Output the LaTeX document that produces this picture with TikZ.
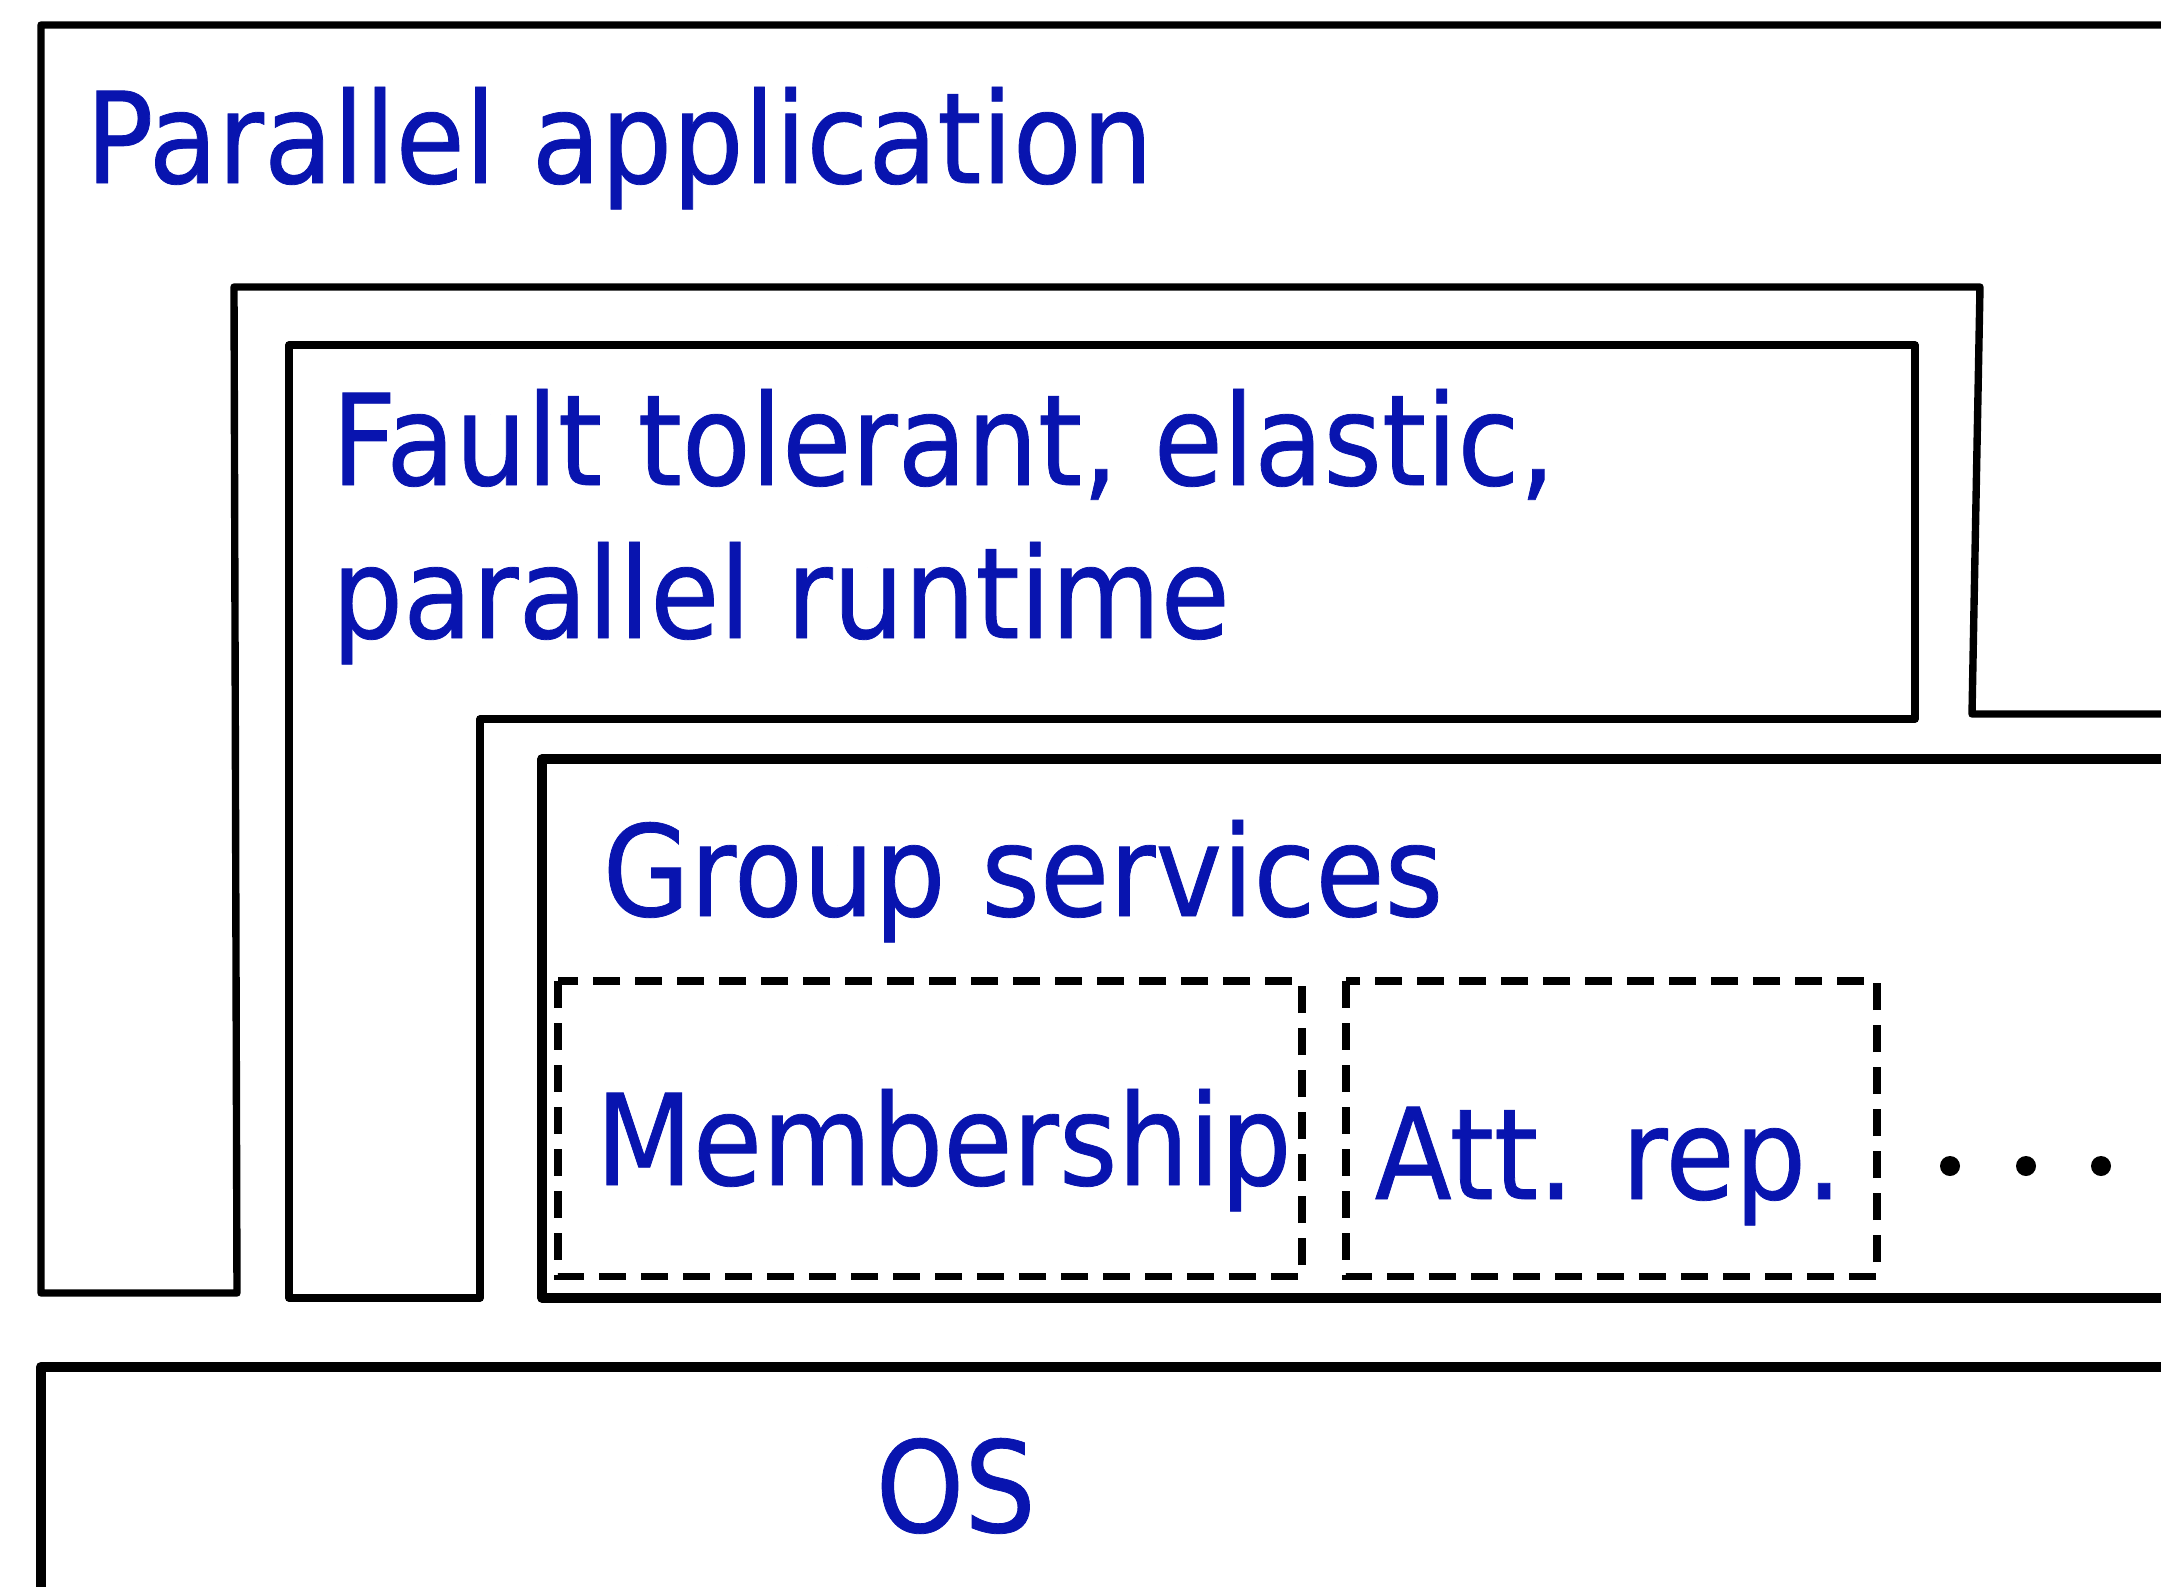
\documentclass[tikz,border=0pt]{standalone}
\usepackage{fontspec}
\setmainfont[FakeStretch=0.89,FakeBold=0.6]{DejaVu Sans}
\definecolor{lblblue}{RGB}{8,20,175}
\tikzset{
    layer/.style={line width=2.1pt, line join=round},
    sublayer/.style={line width=2pt, dash pattern=on 0.27cm off 0.15cm},
    lbl/.style={text=lblblue, inner sep=0pt, anchor=base west, font=\fontsize{36}{40}\selectfont}
}
\begin{document}
\begin{tikzpicture}

    \useasboundingbox (0,0) rectangle (21.61,-15.87);
    \clip (0,0) rectangle (21.61,-15.87);

    %Layers
    \draw[layer] (0.41,-0.25) -- (22,-0.25) -- (22,-7.14) -- (19.72,-7.14) -- (19.80,-2.87) -- (2.34,-2.87) -- (2.37,-12.93) -- (0.41,-12.93) -- cycle;
    \draw[layer] (2.89,-3.45) -- (19.15,-3.45) -- (19.15,-7.19) -- (4.80,-7.19) -- (4.80,-12.98) -- (2.89,-12.98) -- cycle;
    \draw[layer, line width=2.6pt] (5.42,-7.59) rectangle (22,-12.98);
    \draw[layer, line width=3pt] (0.41,-13.67) rectangle (22,-17);

        %Services
    \draw[sublayer] (5.58,-9.81) rectangle (13.02,-12.76);
    \draw[sublayer] (13.46,-9.81) rectangle (18.77,-12.76);
    \fill (19.50,-11.66) circle (0.1);
    \fill (20.26,-11.66) circle (0.1);
    \fill (21.01,-11.66) circle (0.1);

    %Labels
    \node[lbl] (app) at (0.85,-1.83) {Parallel application};
    \node[lbl] (ftA) at (3.31,-4.85) {Fault tolerant, elastic,};
    \node[lbl] (ftB) at (3.31,-6.38) {parallel runtime};
    \node[lbl] (grp) at (6.02,-9.16) {Group services};
    \node[lbl] (mem) at (5.95,-11.85) {Membership};
    \node[lbl] (att) at (13.74,-11.99) {Att. rep.};
    \node[lbl] (os) at (8.75,-15.32) {OS};

\end{tikzpicture}
\end{document}
